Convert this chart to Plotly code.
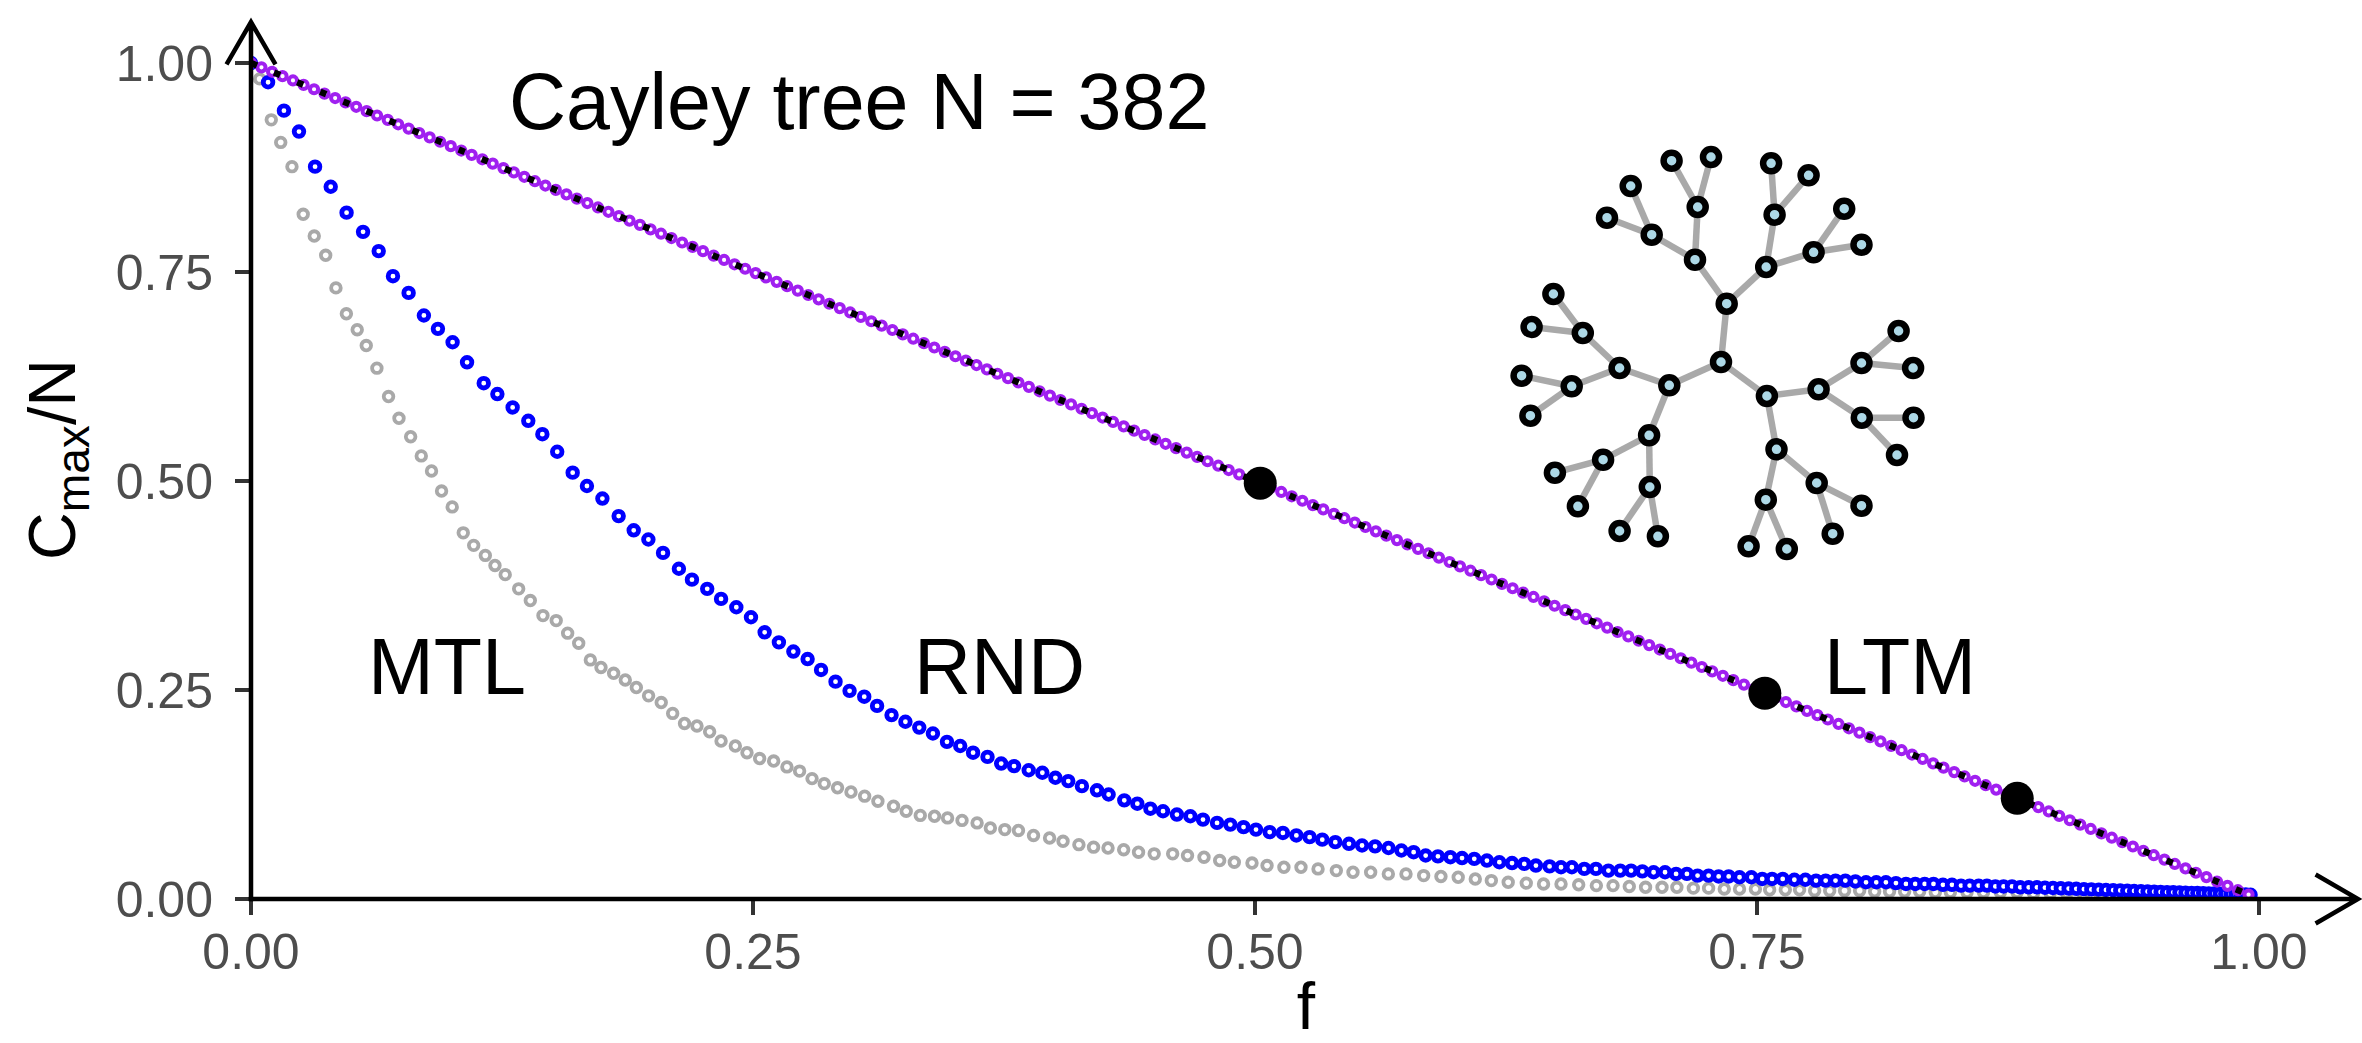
import plotly.graph_objects as go

# ---------------- data ----------------
# LTM (least-to-most): purple points, f = fraction removed, C = Cmax/N
ltm_f = [0.0000, 0.0052, 0.0105, 0.0157, 0.0209, 0.0262, 0.0314, 0.0366, 0.0419, 0.0471,
         0.0524, 0.0576, 0.0628, 0.0681, 0.0733, 0.0785, 0.0838, 0.0890, 0.0942, 0.0995,
         0.1047, 0.1099, 0.1152, 0.1204, 0.1257, 0.1309, 0.1361, 0.1414, 0.1466, 0.1518,
         0.1571, 0.1623, 0.1675, 0.1728, 0.1780, 0.1832, 0.1885, 0.1937, 0.1990, 0.2042,
         0.2094, 0.2147, 0.2199, 0.2251, 0.2304, 0.2356, 0.2408, 0.2461, 0.2513, 0.2565,
         0.2618, 0.2670, 0.2723, 0.2775, 0.2827, 0.2880, 0.2932, 0.2984, 0.3037, 0.3089,
         0.3141, 0.3194, 0.3246, 0.3298, 0.3351, 0.3403, 0.3455, 0.3508, 0.3560, 0.3613,
         0.3665, 0.3717, 0.3770, 0.3822, 0.3874, 0.3927, 0.3979, 0.4031, 0.4084, 0.4136,
         0.4188, 0.4241, 0.4293, 0.4346, 0.4398, 0.4450, 0.4503, 0.4555, 0.4607, 0.4660,
         0.4712, 0.4764, 0.4817, 0.4869, 0.4921, 0.4974, 0.5026, 0.5079, 0.5131, 0.5183,
         0.5236, 0.5288, 0.5340, 0.5393, 0.5445, 0.5497, 0.5550, 0.5602, 0.5654, 0.5707,
         0.5759, 0.5812, 0.5864, 0.5916, 0.5969, 0.6021, 0.6073, 0.6126, 0.6178, 0.6230,
         0.6283, 0.6335, 0.6387, 0.6440, 0.6492, 0.6545, 0.6597, 0.6649, 0.6702, 0.6754,
         0.6806, 0.6859, 0.6911, 0.6963, 0.7016, 0.7068, 0.7120, 0.7173, 0.7225, 0.7277,
         0.7330, 0.7382, 0.7435, 0.7487, 0.7539, 0.7592, 0.7644, 0.7696, 0.7749, 0.7801,
         0.7853, 0.7906, 0.7958, 0.8010, 0.8063, 0.8115, 0.8168, 0.8220, 0.8272, 0.8325,
         0.8377, 0.8429, 0.8482, 0.8534, 0.8586, 0.8639, 0.8691, 0.8743, 0.8796, 0.8848,
         0.8901, 0.8953, 0.9005, 0.9058, 0.9110, 0.9162, 0.9215, 0.9267, 0.9319, 0.9372,
         0.9424, 0.9476, 0.9529, 0.9581, 0.9634, 0.9686, 0.9738, 0.9791, 0.9843, 0.9895,
         0.9948]
ltm_c = [1.0000, 0.9948, 0.9895, 0.9843, 0.9791, 0.9738, 0.9686, 0.9634, 0.9581, 0.9529,
         0.9476, 0.9424, 0.9372, 0.9319, 0.9267, 0.9215, 0.9162, 0.9110, 0.9058, 0.9005,
         0.8953, 0.8901, 0.8848, 0.8796, 0.8743, 0.8691, 0.8639, 0.8586, 0.8534, 0.8482,
         0.8429, 0.8377, 0.8325, 0.8272, 0.8220, 0.8168, 0.8115, 0.8063, 0.8010, 0.7958,
         0.7906, 0.7853, 0.7801, 0.7749, 0.7696, 0.7644, 0.7592, 0.7539, 0.7487, 0.7435,
         0.7382, 0.7330, 0.7277, 0.7225, 0.7173, 0.7120, 0.7068, 0.7016, 0.6963, 0.6911,
         0.6859, 0.6806, 0.6754, 0.6702, 0.6649, 0.6597, 0.6545, 0.6492, 0.6440, 0.6387,
         0.6335, 0.6283, 0.6230, 0.6178, 0.6126, 0.6073, 0.6021, 0.5969, 0.5916, 0.5864,
         0.5812, 0.5759, 0.5707, 0.5654, 0.5602, 0.5550, 0.5497, 0.5445, 0.5393, 0.5340,
         0.5288, 0.5236, 0.5183, 0.5131, 0.5079, 0.5026, 0.4974, 0.4921, 0.4869, 0.4817,
         0.4764, 0.4712, 0.4660, 0.4607, 0.4555, 0.4503, 0.4450, 0.4398, 0.4346, 0.4293,
         0.4241, 0.4188, 0.4136, 0.4084, 0.4031, 0.3979, 0.3927, 0.3874, 0.3822, 0.3770,
         0.3717, 0.3665, 0.3613, 0.3560, 0.3508, 0.3455, 0.3403, 0.3351, 0.3298, 0.3246,
         0.3194, 0.3141, 0.3089, 0.3037, 0.2984, 0.2932, 0.2880, 0.2827, 0.2775, 0.2723,
         0.2670, 0.2618, 0.2565, 0.2513, 0.2461, 0.2408, 0.2356, 0.2304, 0.2251, 0.2199,
         0.2147, 0.2094, 0.2042, 0.1990, 0.1937, 0.1885, 0.1832, 0.1780, 0.1728, 0.1675,
         0.1623, 0.1571, 0.1518, 0.1466, 0.1414, 0.1361, 0.1309, 0.1257, 0.1204, 0.1152,
         0.1099, 0.1047, 0.0995, 0.0942, 0.0890, 0.0838, 0.0785, 0.0733, 0.0681, 0.0628,
         0.0576, 0.0524, 0.0471, 0.0419, 0.0366, 0.0314, 0.0262, 0.0209, 0.0157, 0.0105,
         0.0052]

# LTM milestones (big black dots)
mark_f = [0.5026, 0.7539, 0.8796]
mark_c = [0.4974, 0.2461, 0.1204]

# RND (random removal): blue points
rnd_f = [0.0000, 0.0085, 0.0164, 0.0239, 0.0319, 0.0397, 0.0476, 0.0558, 0.0636, 0.0707,
         0.0785, 0.0861, 0.0931, 0.1004, 0.1076, 0.1159, 0.1227, 0.1303, 0.1381, 0.1451,
         0.1525, 0.1602, 0.1673, 0.1750, 0.1831, 0.1906, 0.1979, 0.2052, 0.2131, 0.2196,
         0.2272, 0.2341, 0.2417, 0.2490, 0.2558, 0.2629, 0.2701, 0.2772, 0.2839, 0.2911,
         0.2981, 0.3054, 0.3118, 0.3190, 0.3259, 0.3328, 0.3396, 0.3466, 0.3532, 0.3596,
         0.3668, 0.3736, 0.3800, 0.3873, 0.3941, 0.4006, 0.4070, 0.4138, 0.4213, 0.4271,
         0.4349, 0.4414, 0.4479, 0.4542, 0.4611, 0.4678, 0.4741, 0.4811, 0.4877, 0.4943,
         0.5005, 0.5073, 0.5139, 0.5206, 0.5272, 0.5335, 0.5400, 0.5468, 0.5533, 0.5598,
         0.5665, 0.5729, 0.5790, 0.5850, 0.5911, 0.5973, 0.6031, 0.6092, 0.6155, 0.6217,
         0.6280, 0.6341, 0.6399, 0.6467, 0.6524, 0.6578, 0.6640, 0.6698, 0.6760, 0.6819,
         0.6873, 0.6929, 0.6985, 0.7042, 0.7097, 0.7151, 0.7204, 0.7259, 0.7309, 0.7359,
         0.7413, 0.7472, 0.7526, 0.7575, 0.7628, 0.7686, 0.7741, 0.7794, 0.7842, 0.7891,
         0.7940, 0.7990, 0.8043, 0.8094, 0.8142, 0.8192, 0.8242, 0.8288, 0.8335, 0.8379,
         0.8426, 0.8471, 0.8516, 0.8559, 0.8604, 0.8645, 0.8687, 0.8728, 0.8770, 0.8811,
         0.8853, 0.8894, 0.8934, 0.8974, 0.9013, 0.9052, 0.9090, 0.9128, 0.9165, 0.9202,
         0.9238, 0.9274, 0.9309, 0.9344, 0.9378, 0.9412, 0.9445, 0.9478, 0.9510, 0.9542,
         0.9573, 0.9604, 0.9634, 0.9664, 0.9693, 0.9722, 0.9750, 0.9778, 0.9805, 0.9832,
         0.9858, 0.9884, 0.9909, 0.9934, 0.9958]
rnd_c = [1.000, 0.977, 0.943, 0.918, 0.876, 0.852, 0.821, 0.798, 0.775, 0.745,
         0.725, 0.698, 0.682, 0.666, 0.642, 0.617, 0.604, 0.588, 0.572, 0.556,
         0.535, 0.510, 0.494, 0.479, 0.458, 0.441, 0.430, 0.414, 0.395, 0.382,
         0.371, 0.359, 0.349, 0.337, 0.319, 0.307, 0.296, 0.287, 0.274, 0.260,
         0.249, 0.242, 0.231, 0.220, 0.212, 0.205, 0.198, 0.188, 0.183, 0.175,
         0.170, 0.162, 0.159, 0.154, 0.151, 0.145, 0.141, 0.135, 0.130, 0.125,
         0.118, 0.114, 0.108, 0.105, 0.101, 0.099, 0.095, 0.091, 0.089, 0.086,
         0.083, 0.080, 0.079, 0.076, 0.074, 0.071, 0.068, 0.066, 0.064, 0.063,
         0.061, 0.058, 0.056, 0.052, 0.051, 0.050, 0.049, 0.048, 0.046, 0.044,
         0.043, 0.042, 0.040, 0.039, 0.038, 0.038, 0.036, 0.036, 0.034, 0.034,
         0.034, 0.033, 0.032, 0.032, 0.030, 0.030, 0.028, 0.028, 0.027, 0.027,
         0.026, 0.026, 0.024, 0.024, 0.024, 0.023, 0.023, 0.022, 0.022, 0.022,
         0.022, 0.021, 0.020, 0.020, 0.020, 0.019, 0.018, 0.018, 0.018, 0.018,
         0.017, 0.017, 0.016, 0.016, 0.016, 0.016, 0.015, 0.015, 0.015, 0.014,
         0.014, 0.014, 0.0135, 0.0132, 0.0128, 0.0125, 0.0122, 0.0118, 0.0115, 0.0112,
         0.0108, 0.0105, 0.0102, 0.0099, 0.0096, 0.0093, 0.0090, 0.0088, 0.0085, 0.0082,
         0.0080, 0.0078, 0.0075, 0.0073, 0.0071, 0.0069, 0.0067, 0.0065, 0.0063, 0.0061,
         0.0059, 0.0057, 0.0055, 0.0053, 0.0050]

# MTL (most-to-least): grey points
mtl_f = [0.0000, 0.0043, 0.0101, 0.0148, 0.0204, 0.0260, 0.0315, 0.0372, 0.0423, 0.0475,
         0.0529, 0.0574, 0.0627, 0.0685, 0.0737, 0.0795, 0.0848, 0.0899, 0.0949, 0.1002,
         0.1057, 0.1109, 0.1167, 0.1215, 0.1266, 0.1333, 0.1391, 0.1454, 0.1520, 0.1577,
         0.1632, 0.1690, 0.1743, 0.1806, 0.1864, 0.1919, 0.1980, 0.2043, 0.2100, 0.2159,
         0.2221, 0.2284, 0.2341, 0.2412, 0.2470, 0.2533, 0.2603, 0.2669, 0.2732, 0.2794,
         0.2855, 0.2921, 0.2988, 0.3056, 0.3122, 0.3200, 0.3263, 0.3333, 0.3404, 0.3469,
         0.3541, 0.3616, 0.3682, 0.3754, 0.3822, 0.3897, 0.3977, 0.4044, 0.4123, 0.4196,
         0.4268, 0.4346, 0.4420, 0.4498, 0.4590, 0.4664, 0.4746, 0.4824, 0.4897, 0.4985,
         0.5060, 0.5144, 0.5229, 0.5314, 0.5405, 0.5488, 0.5576, 0.5664, 0.5752, 0.5840,
         0.5926, 0.6012, 0.6097, 0.6177, 0.6261, 0.6351, 0.6437, 0.6524, 0.6612, 0.6700,
         0.6783, 0.6864, 0.6945, 0.7027, 0.7101, 0.7183, 0.7259, 0.7337, 0.7413, 0.7492,
         0.7563, 0.7641, 0.7712, 0.7787, 0.7862, 0.7936, 0.8011, 0.8086, 0.8160, 0.8235,
         0.8310, 0.8388, 0.8463, 0.8546, 0.8628, 0.8712, 0.8795, 0.8877, 0.8960, 0.9043,
         0.9126, 0.9209, 0.9292, 0.9375, 0.9458, 0.9541, 0.9624, 0.9707, 0.9790, 0.9873,
         0.9948]
mtl_c = [1.000, 0.981, 0.932, 0.905, 0.876, 0.819, 0.793, 0.770, 0.731, 0.700,
         0.681, 0.662, 0.635, 0.601, 0.575, 0.553, 0.530, 0.512, 0.488, 0.469,
         0.438, 0.423, 0.411, 0.399, 0.388, 0.371, 0.357, 0.339, 0.333, 0.318,
         0.306, 0.286, 0.277, 0.270, 0.262, 0.253, 0.243, 0.235, 0.222, 0.210,
         0.207, 0.200, 0.189, 0.183, 0.175, 0.168, 0.165, 0.158, 0.153, 0.144,
         0.138, 0.133, 0.128, 0.123, 0.117, 0.111, 0.105, 0.100, 0.099, 0.097,
         0.094, 0.091, 0.085, 0.083, 0.082, 0.076, 0.073, 0.069, 0.065, 0.062,
         0.061, 0.059, 0.056, 0.054, 0.054, 0.052, 0.050, 0.046, 0.044, 0.043,
         0.040, 0.038, 0.038, 0.036, 0.034, 0.032, 0.032, 0.030, 0.030, 0.028,
         0.027, 0.026, 0.024, 0.022, 0.020, 0.019, 0.018, 0.018, 0.017, 0.016,
         0.016, 0.015, 0.014, 0.014, 0.014, 0.013, 0.013, 0.012, 0.012, 0.012,
         0.011, 0.011, 0.011, 0.010, 0.010, 0.010, 0.010, 0.009, 0.009, 0.009,
         0.009, 0.008, 0.008, 0.008, 0.008, 0.008, 0.008, 0.007, 0.007, 0.007,
         0.006, 0.006, 0.006, 0.005, 0.005, 0.005, 0.004, 0.004, 0.003, 0.003,
         0.003]

# Series labels
label_text = ["MTL", "RND", "LTM"]
label_f = [0.0975, 0.373, 0.821]
label_c = [0.278, 0.278, 0.278]
title_text = "Cayley tree N = 382"

# Tick labels
tick_vals = [0.0, 0.25, 0.5, 0.75, 1.0]
tick_text = ["0.00", "0.25", "0.50", "0.75", "1.00"]

# Inset: Cayley tree drawing (node offsets from the root, inset pixel units, y up)
tree_dx = [0.0,
           5.7, -51.7, 45.9,
           -26.0, 45.2, -101.4, -71.9, 97.6, 55.5,
           -69.3, -23.3, 53.6, 92.6, -138.2, -149.3, -117.9, -71.2, 140.5, 140.8, 95.7, 44.8,
           -114.0, -90.3, -49.4, -10.0, 50.1, 87.6, 123.2, 140.5, -167.6, -189.4, -199.4, -190.6,
           -166.1, -143.1, -101.4, -63.1, 177.6, 192.1, 192.5, 176.0, 140.5, 111.7, 27.6, 65.8]
tree_dy = [0.0,
           58.3, -23.3, -34.0,
           102.3, 95.0, -6.0, -73.3, -27.3, -87.3,
           127.3, 155.0, 147.3, 109.7, 29.0, -24.3, -97.7, -125.0, -1.0, -55.7, -121.0, -137.7,
           144.3, 176.0, 201.3, 205.0, 198.7, 186.7, 153.3, 117.3, 68.0, 35.0, -13.7, -53.7,
           -110.7, -144.3, -169.0, -174.3, 31.0, -6.0, -55.7, -93.0, -143.7, -171.7, -184.3, -187.0]
tree_parent = [-1,
               0, 0, 0,
               1, 1, 2, 2, 3, 3,
               4, 4, 5, 5, 6, 6, 7, 7, 8, 8, 9, 9,
               10, 10, 11, 11, 12, 12, 13, 13, 14, 14, 15, 15, 16, 16, 17, 17,
               18, 18, 19, 19, 20, 20, 21, 21]

# ---------------- layout geometry ----------------
W, H = 2362, 1043
ML, MR, MT, MB = 251, 1, 20, 144
PW = W - ML - MR
PH = H - MT - MB
PX_PER_X = 2008.0
PX_PER_Y = 836.0
x_max = PW / PX_PER_X
y_max = PH / PX_PER_Y
ROOT_PX = (1721.0, 362.0)
FONT = "Liberation Sans, Arial, Helvetica, sans-serif"


def px_x(px):
    return (px - ML) / PW


def px_y(py):
    return (MT + PH - py) / PH


fig = go.Figure()

fig.add_trace(go.Scatter(
    x=mtl_f, y=mtl_c, mode="markers", hoverinfo="skip",
    marker=dict(symbol="circle", size=9.6, color="white",
                line=dict(color="#A9A9A9", width=3.8))))
fig.add_trace(go.Scatter(
    x=rnd_f, y=rnd_c, mode="markers", hoverinfo="skip",
    marker=dict(symbol="circle", size=9.6, color="white",
                line=dict(color="#0000FF", width=4.8))))
fig.add_trace(go.Scatter(
    x=ltm_f, y=ltm_c, mode="markers", hoverinfo="skip",
    marker=dict(symbol="circle", size=8.2, color="white",
                line=dict(color="#A020F0", width=4.0))))
fig.add_trace(go.Scatter(
    x=ltm_f, y=ltm_c, mode="lines", hoverinfo="skip",
    line=dict(color="black", width=6.5, dash="6.5px,18.5px")))
fig.add_trace(go.Scatter(
    x=mark_f, y=mark_c, mode="markers", hoverinfo="skip",
    marker=dict(symbol="circle", size=33, color="black", line=dict(width=0))))

# tree inset (overlay axes in pixel units centred on the root)
ex, ey = [], []
for i, p in enumerate(tree_parent):
    if p < 0:
        continue
    ex += [tree_dx[p], tree_dx[i], None]
    ey += [tree_dy[p], tree_dy[i], None]
fig.add_trace(go.Scatter(
    x=ex, y=ey, mode="lines", xaxis="x2", yaxis="y2", hoverinfo="skip",
    line=dict(color="#A9A9A9", width=6.5)))
fig.add_trace(go.Scatter(
    x=tree_dx, y=tree_dy, mode="markers", xaxis="x2", yaxis="y2", hoverinfo="skip",
    marker=dict(symbol="circle", size=16, color="#ADD8E6",
                line=dict(color="black", width=6.5))))

# annotations
annots = [dict(x=0.303, y=0.954, xref="x", yref="y", text=title_text, showarrow=False,
               xanchor="center", yanchor="middle",
               font=dict(family=FONT, size=79, color="black"))]
for t, fx, cy in zip(label_text, label_f, label_c):
    annots.append(dict(x=fx, y=cy, xref="x", yref="y", text=t, showarrow=False,
                       xanchor="center", yanchor="middle",
                       font=dict(family=FONT, size=79, color="black")))

# axis lines with open arrow heads
LW = 4.5
AY = MT + 2           # y-arrow apex (px)
AX = W - 4            # x-arrow apex (px)
ARM_L, ARM_W = 42.4, 24.5
X0 = MT + PH          # x-axis line pixel row
shapes = [
    dict(type="path", xref="paper", yref="paper", layer="above",
         path=(f"M {px_x(ML)},{px_y(X0 + LW / 2)} L {px_x(ML)},{px_y(AY)} "
               f"M {px_x(ML - ARM_W)},{px_y(AY + ARM_L)} L {px_x(ML)},{px_y(AY)} "
               f"L {px_x(ML + ARM_W)},{px_y(AY + ARM_L)}"),
         line=dict(color="black", width=LW)),
    dict(type="path", xref="paper", yref="paper", layer="above",
         path=(f"M {px_x(ML - LW / 2)},{px_y(X0)} L {px_x(AX)},{px_y(X0)} "
               f"M {px_x(AX - ARM_L)},{px_y(X0 - ARM_W)} L {px_x(AX)},{px_y(X0)} "
               f"L {px_x(AX - ARM_L)},{px_y(X0 + ARM_W)}"),
         line=dict(color="black", width=LW)),
]

axis_common = dict(showline=False, showgrid=False, zeroline=False, ticks="outside",
                   ticklen=15, tickwidth=4, tickcolor="#333333",
                   tickvals=tick_vals, ticktext=tick_text,
                   tickfont=dict(family=FONT, size=50, color="#4D4D4D"))

fig.update_layout(
    width=W, height=H,
    margin=dict(l=ML, r=MR, t=MT, b=MB, autoexpand=False, pad=0),
    plot_bgcolor="white", paper_bgcolor="white",
    showlegend=False,
    font=dict(family=FONT),
    xaxis=dict(range=[0, x_max], **axis_common, ticklabelstandoff=-6,
               title=dict(text="f", font=dict(family=FONT, size=66, color="black"), standoff=21)),
    yaxis=dict(range=[0, y_max], **axis_common, ticklabelstandoff=12,
               title=dict(text="C<sub>max</sub>/N", font=dict(family=FONT, size=66, color="black"),
                          standoff=18)),
    xaxis2=dict(domain=[0, 1], overlaying="x", anchor="y2", visible=False,
                range=[ML - ROOT_PX[0], ML + PW - ROOT_PX[0]]),
    yaxis2=dict(domain=[0, 1], overlaying="y", anchor="x2", visible=False,
                range=[ROOT_PX[1] - (MT + PH), ROOT_PX[1] - MT]),
    annotations=annots,
    shapes=shapes,
)

fig.write_html("out.html")
